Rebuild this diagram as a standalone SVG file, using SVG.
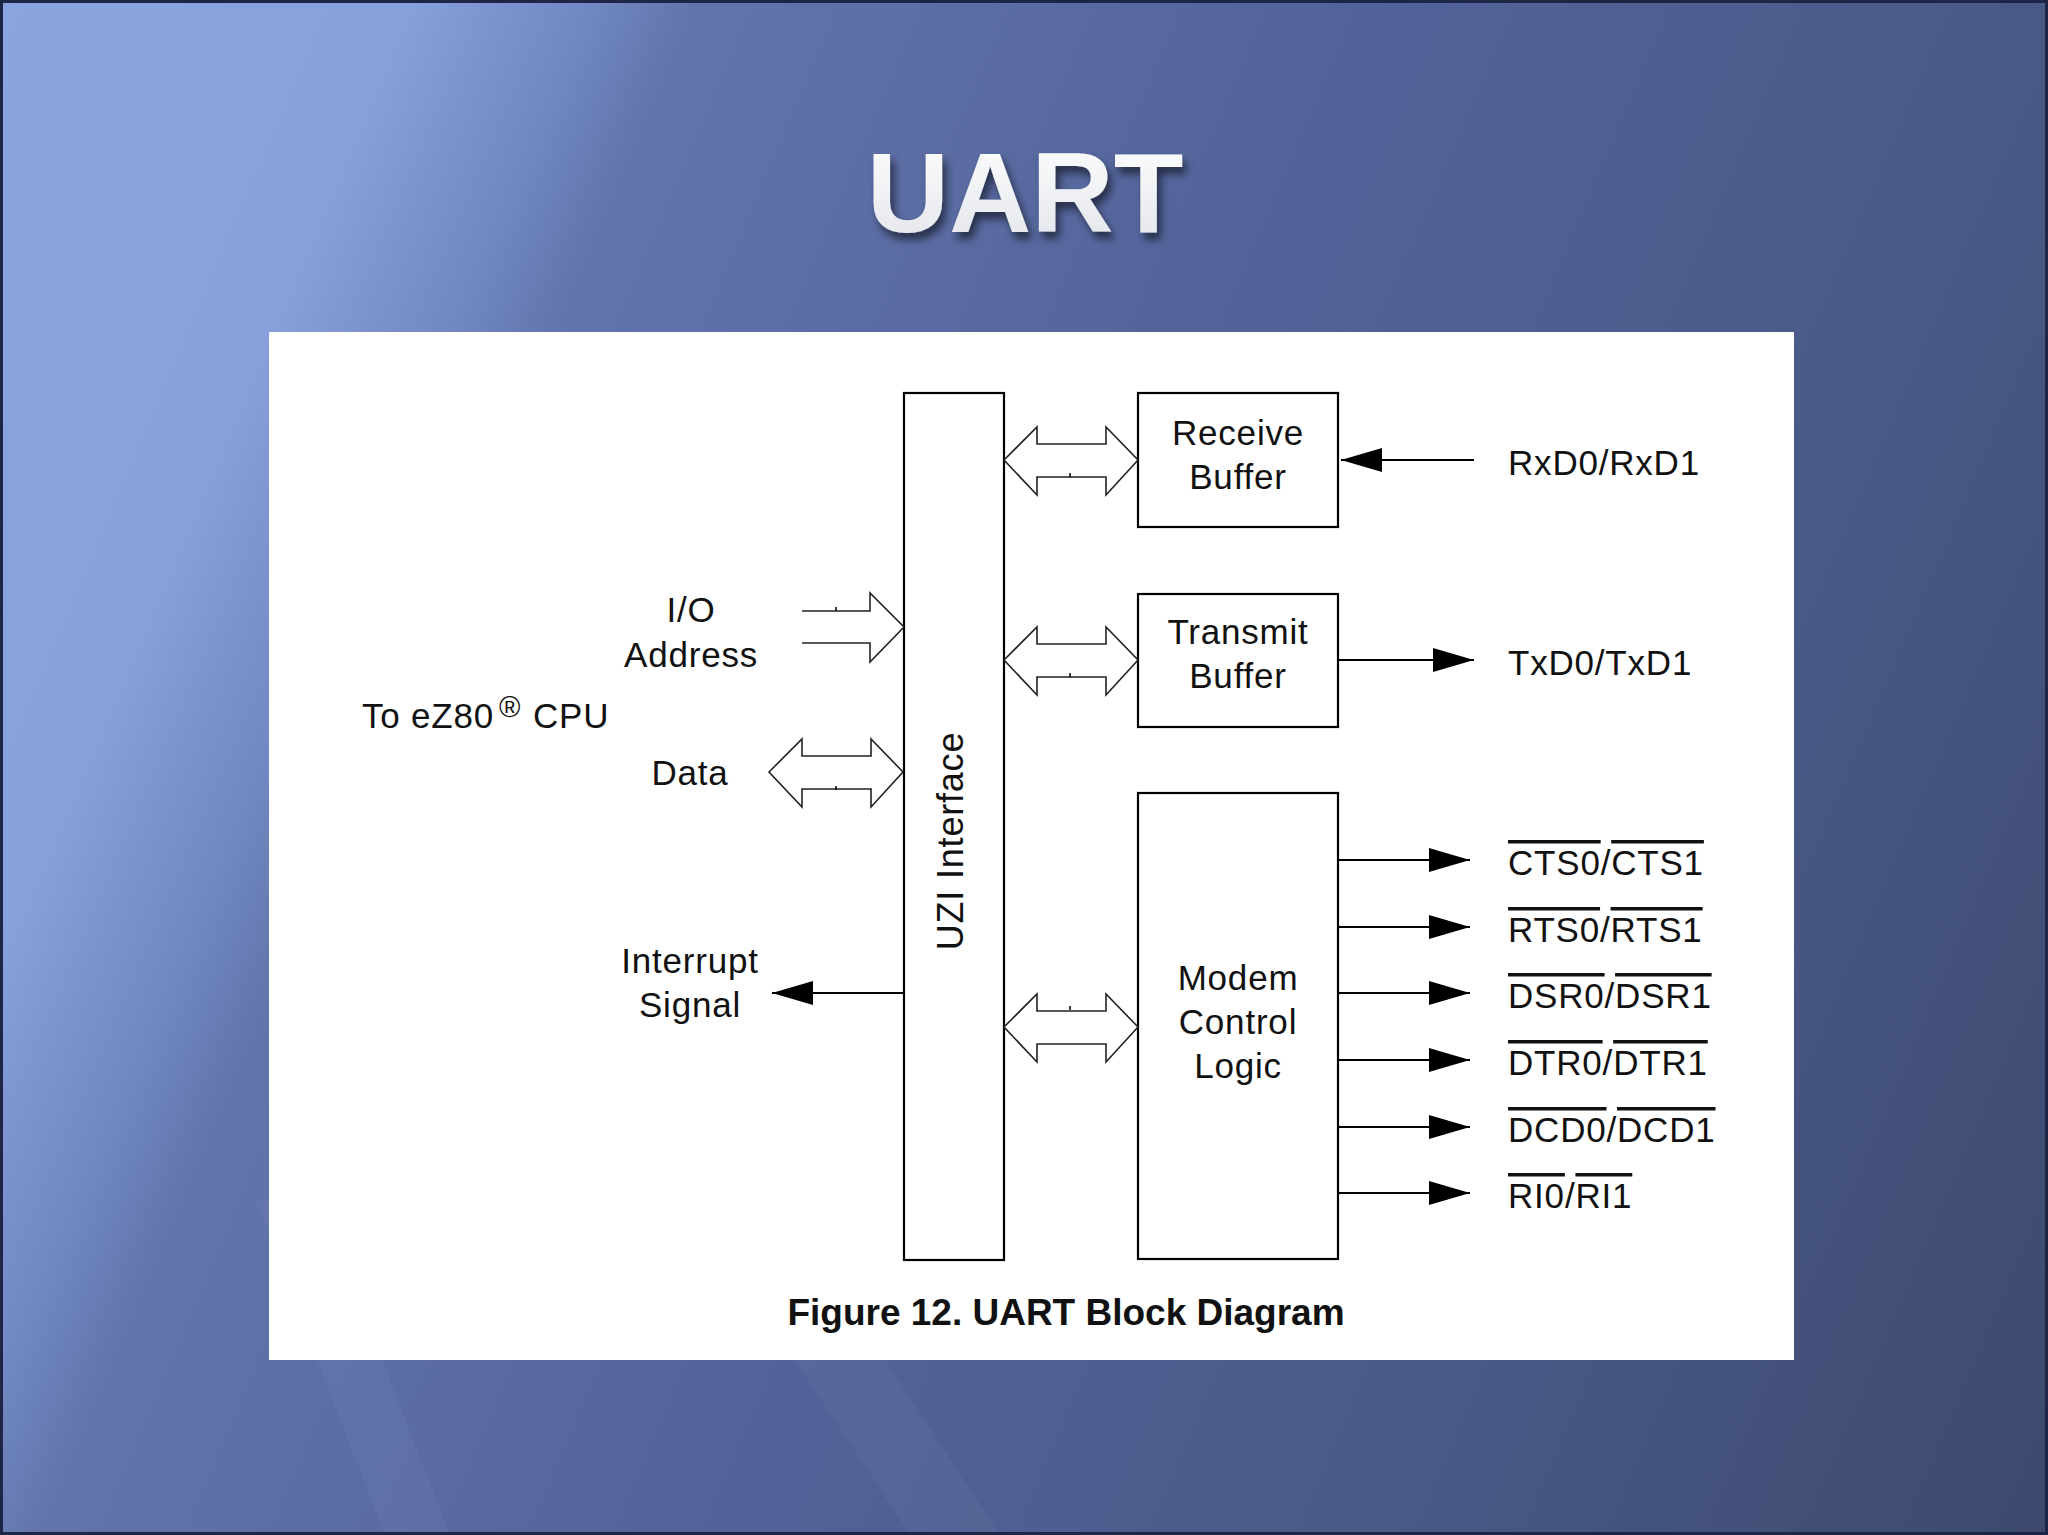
<svg xmlns="http://www.w3.org/2000/svg" width="2048" height="1535" viewBox="0 0 2048 1535">
  <defs>
    <linearGradient id="bg" gradientUnits="userSpaceOnUse" x1="0" y1="0" x2="2286" y2="980">
      <stop offset="0" stop-color="#8ba3de"/>
      <stop offset="0.15" stop-color="#88a0db"/>
      <stop offset="0.22" stop-color="#7087c1"/>
      <stop offset="0.26" stop-color="#6174ab"/>
      <stop offset="0.5" stop-color="#52639a"/>
      <stop offset="0.76" stop-color="#495986"/>
      <stop offset="1" stop-color="#3d4a6e"/>
    </linearGradient>
    <linearGradient id="titleFill" x1="0" y1="0" x2="0" y2="1">
      <stop offset="0" stop-color="#ffffff"/>
      <stop offset="1" stop-color="#e2e4ea"/>
    </linearGradient>
    <filter id="shadow" x="-10%" y="-20%" width="130%" height="150%">
      <feDropShadow dx="4" dy="7" stdDeviation="4" flood-color="#000" flood-opacity="0.55"/>
    </filter>
    <marker id="head" markerUnits="userSpaceOnUse" markerWidth="42" markerHeight="24" refX="41" refY="12" orient="auto">
      <path d="M0,0 L41,12 L0,24 Z" fill="#000"/>
    </marker>
    <path id="dbl" d="M0,0 L33,-33 L33,-16 L102,-16 L102,-33 L134,0 L102,35 L102,17 L33,17 L33,35 Z"/>
    <style>
      .lbl { font-family: "Liberation Sans", Arial, sans-serif; font-size: 35px; fill: #111; letter-spacing: 0.8px; }
      .mid { text-anchor: middle; }
      .box { fill: #fff; stroke: #000; stroke-width: 2.2; }
      .wire { stroke: #000; stroke-width: 2; fill: none; }
      .bus { fill: #fff; stroke: #222; stroke-width: 1.6; stroke-linejoin: miter; }
      .tick { stroke: #000; stroke-width: 1.5; }
      .ov { text-decoration: overline; }
    </style>
  </defs>

  <g id="background">
    <rect x="0" y="0" width="2048" height="1535" fill="url(#bg)"/>
    <polygon points="255,1200 320,1200 450,1535 385,1535" fill="#ffffff" opacity="0.035"/>
    <polygon points="690,1200 780,1200 1000,1535 910,1535" fill="#ffffff" opacity="0.035"/>
    <rect x="1.5" y="1.5" width="2045" height="1532" fill="none" stroke="#1d2646" stroke-width="3"/>
  </g>

  <g id="title">
    <text x="1025" y="232" text-anchor="middle" font-family="Liberation Sans, Arial, sans-serif" font-weight="bold" font-size="114" fill="url(#titleFill)" filter="url(#shadow)">UART</text>
  </g>

  <g id="panel">
    <rect x="269" y="332" width="1525" height="1028" fill="#ffffff"/>
  </g>

  <g id="uzi-interface">
    <rect class="box" x="904" y="393" width="100" height="867"/>
    <text class="lbl mid" transform="translate(963,841) rotate(-90)" x="0" y="0" style="font-size:36px">UZI Interface</text>
  </g>

  <g id="receive-buffer">
    <rect class="box" x="1138" y="393" width="200" height="134"/>
    <text class="lbl mid" x="1238" y="445">Receive</text>
    <text class="lbl mid" x="1238" y="489">Buffer</text>
  </g>

  <g id="transmit-buffer">
    <rect class="box" x="1138" y="594" width="200" height="133"/>
    <text class="lbl mid" x="1238" y="644">Transmit</text>
    <text class="lbl mid" x="1238" y="688">Buffer</text>
  </g>

  <g id="modem-control-logic">
    <rect class="box" x="1138" y="793" width="200" height="466"/>
    <text class="lbl mid" x="1238" y="990">Modem</text>
    <text class="lbl mid" x="1238" y="1034">Control</text>
    <text class="lbl mid" x="1238" y="1078">Logic</text>
  </g>

  <g id="cpu-labels">
    <text class="lbl" x="362" y="728">To eZ80<tspan x="499" y="717" style="font-size:29px;letter-spacing:0">®</tspan><tspan x="533" y="728">CPU</tspan></text>
    <text class="lbl mid" x="691" y="622">I/O</text>
    <text class="lbl mid" x="691" y="667">Address</text>
    <text class="lbl mid" x="690" y="785">Data</text>
    <text class="lbl mid" x="690" y="973">Interrupt</text>
    <text class="lbl mid" x="690" y="1017">Signal</text>
  </g>

  <g id="signal-labels">
    <text class="lbl" x="1508" y="475">RxD0/RxD1</text>
    <text class="lbl" x="1508" y="675">TxD0/TxD1</text>
    <text class="lbl" x="1508" y="875"><tspan class="ov">CTS0</tspan>/<tspan class="ov">CTS1</tspan></text>
    <text class="lbl" x="1508" y="942"><tspan class="ov">RTS0</tspan>/<tspan class="ov">RTS1</tspan></text>
    <text class="lbl" x="1508" y="1008"><tspan class="ov">DSR0</tspan>/<tspan class="ov">DSR1</tspan></text>
    <text class="lbl" x="1508" y="1075"><tspan class="ov">DTR0</tspan>/<tspan class="ov">DTR1</tspan></text>
    <text class="lbl" x="1508" y="1142"><tspan class="ov">DCD0</tspan>/<tspan class="ov">DCD1</tspan></text>
    <text class="lbl" x="1508" y="1208"><tspan class="ov">RI0</tspan>/<tspan class="ov">RI1</tspan></text>
  </g>

  <g id="connectors">
    <path class="bus" d="M802,611 L870,611 L870,593 L904,627 L870,662 L870,643 L802,643" fill="none"/>
    <line class="tick" x1="836" y1="607" x2="836" y2="611"/>
    <use href="#dbl" class="bus" transform="translate(769,772)"/>
    <line class="tick" x1="836" y1="786" x2="836" y2="790"/>
    <use href="#dbl" class="bus" transform="translate(1004,460)"/>
    <line class="tick" x1="1070" y1="473" x2="1070" y2="477"/>
    <use href="#dbl" class="bus" transform="translate(1004,660)"/>
    <line class="tick" x1="1070" y1="673" x2="1070" y2="677"/>
    <use href="#dbl" class="bus" transform="translate(1004,1027)"/>
    <line class="tick" x1="1070" y1="1006" x2="1070" y2="1010"/>
    <line class="wire" x1="904" y1="993" x2="772" y2="993" marker-end="url(#head)"/>
    <line class="wire" x1="1474" y1="460" x2="1341" y2="460" marker-end="url(#head)"/>
    <line class="wire" x1="1338" y1="660" x2="1474" y2="660" marker-end="url(#head)"/>
    <line class="wire" x1="1338" y1="860" x2="1470" y2="860" marker-end="url(#head)"/>
    <line class="wire" x1="1338" y1="927" x2="1470" y2="927" marker-end="url(#head)"/>
    <line class="wire" x1="1338" y1="993" x2="1470" y2="993" marker-end="url(#head)"/>
    <line class="wire" x1="1338" y1="1060" x2="1470" y2="1060" marker-end="url(#head)"/>
    <line class="wire" x1="1338" y1="1127" x2="1470" y2="1127" marker-end="url(#head)"/>
    <line class="wire" x1="1338" y1="1193" x2="1470" y2="1193" marker-end="url(#head)"/>
  </g>

  <g id="caption">
    <text x="1066" y="1325" text-anchor="middle" font-family="Liberation Sans, Arial, sans-serif" font-weight="bold" font-size="37" fill="#111">Figure 12. UART Block Diagram</text>
  </g>
</svg>
